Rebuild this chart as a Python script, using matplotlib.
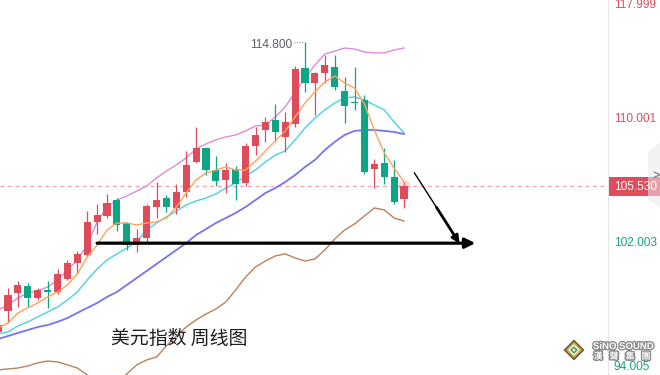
#!/usr/bin/env python3
"""
plot.py

Weekly US dollar index candlestick chart (美元指数 周线图) with MA5 / MA10 and
Bollinger bands, plus the two hand-drawn support arrows. Saves out.png.
"""

import matplotlib
matplotlib.use("Agg")

import matplotlib.pyplot as plt
import matplotlib.patches as mpatches
import matplotlib.patheffects as pe

# ---------------------------------------------------------------- data
# weekly candles
opens = [96.13, 97.49, 98.64, 99.09, 98.32, 98.84, 98.71, 99.55, 100.58, 101.09,
         103.22, 103.60, 104.63, 103.15, 101.73, 102.19, 104.18, 104.76, 104.12, 105.15,
         107.08, 107.98, 106.56, 105.92, 106.63, 105.73, 108.11, 109.14, 109.78, 108.69,
         109.53, 113.13, 112.17, 112.81, 113.20, 111.65, 110.94, 111.07, 106.63, 107.01,
         106.11, 104.70]
highs = [96.78, 98.97, 99.42, 99.29, 98.97, 99.42, 100.19, 100.77, 101.35, 103.92,
         104.37, 105.02, 104.76, 103.22, 102.77, 104.37, 105.79, 104.95, 105.66, 107.79,
         109.33, 108.04, 107.47, 107.01, 106.82, 108.30, 109.33, 109.98, 110.81, 110.30,
         113.26, 114.80, 112.87, 113.97, 113.97, 112.55, 113.20, 111.39, 107.27, 107.98,
         107.21, 105.79]
lows = [96.00, 96.71, 97.74, 97.74, 98.19, 97.68, 98.58, 99.48, 99.87, 101.03,
        102.44, 103.47, 102.64, 101.41, 101.28, 101.86, 103.47, 103.86, 103.73, 104.82,
        107.01, 106.24, 105.53, 105.08, 104.63, 105.53, 107.53, 108.37, 108.37, 107.72,
        109.33, 111.59, 110.11, 112.17, 111.71, 109.59, 110.43, 106.31, 105.40, 105.66,
        104.37, 104.12]
closes = [96.58, 98.52, 99.16, 98.32, 98.84, 98.71, 99.87, 100.58, 101.16, 103.22,
          103.67, 104.44, 103.02, 101.73, 102.19, 104.25, 104.63, 104.18, 105.15, 106.89,
          107.98, 106.56, 105.86, 106.56, 105.66, 108.11, 108.82, 109.65, 109.01, 109.65,
          113.07, 112.17, 112.81, 113.32, 111.91, 110.68, 110.88, 106.43, 106.95, 106.11,
          104.50, 105.53]

# indicator lines
ma5 = [96.39, 96.71, 97.36, 97.68, 98.00, 98.39, 98.71, 99.16, 99.87, 100.96,
       101.73, 102.70, 103.15, 103.15, 103.02, 103.15, 103.22, 103.47, 104.18, 105.08,
       105.92, 106.37, 106.56, 106.76, 106.56, 106.56, 107.14, 107.79, 108.43, 109.08,
       109.98, 110.88, 111.59, 112.23, 112.62, 112.17, 111.84, 110.81, 109.14, 107.66,
       106.69, 105.79]
ma10 = [96.00, 96.13, 96.52, 96.78, 97.10, 97.42, 97.74, 98.19, 98.71, 99.48,
        100.19, 100.77, 101.16, 101.54, 101.93, 102.70, 103.15, 103.54, 103.92, 104.31,
        104.57, 104.76, 105.02, 105.40, 105.73, 106.18, 106.56, 107.08, 107.53, 107.79,
        108.50, 109.27, 109.91, 110.43, 110.88, 111.20, 111.27, 111.07, 110.75, 110.43,
        109.65, 108.95]
boll_mid = [95.68, 95.87, 96.07, 96.26, 96.45, 96.58, 96.78, 97.03, 97.36, 97.68,
            98.00, 98.39, 98.71, 99.16, 99.61, 100.06, 100.51, 100.96, 101.41, 101.86,
            102.38, 102.76, 103.15, 103.47, 103.80, 104.18, 104.63, 105.08, 105.40, 105.79,
            106.24, 106.76, 107.21, 107.85, 108.37, 108.82, 109.08, 109.14, 109.14, 109.08,
            109.01, 108.88]
boll_up = [97.55, 97.87, 98.32, 98.64, 98.77, 99.03, 99.48, 100.12, 100.77, 101.73,
           103.22, 104.18, 104.63, 104.89, 105.21, 105.53, 106.05, 106.50, 106.89, 107.34,
           107.92, 108.24, 108.50, 108.69, 108.82, 109.08, 109.40, 109.46, 109.98, 110.62,
           111.59, 112.49, 113.32, 114.03, 114.22, 114.42, 114.35, 114.16, 114.10, 114.10,
           114.29, 114.42]
boll_low = [93.69, 93.75, 93.81, 93.94, 94.14, 94.26, 94.20, 94.01, 93.81, 93.36,
            92.78, 92.59, 92.78, 93.43, 94.01, 94.33, 94.52, 95.23, 95.87, 96.45,
            96.91, 97.29, 97.61, 98.06, 98.84, 99.67, 100.32, 100.70, 101.03, 101.16,
            100.90, 100.70, 100.83, 101.41, 102.12, 102.70, 103.09, 103.60, 104.12, 103.99,
            103.47, 103.28]

last_price = 105.53
high_label = "114.800"
support_level = 101.85
title = "美元指数 周线图"

axis_labels = ["117.999", "110.001", "102.003", "94.005"]
axis_label_px = [5, 119, 243, 367]        # vertical pixel position of each label
axis_label_colors = ["#e04c5c", "#e04c5c", "#14a386", "#14a386"]

UP = "#de4b5b"
DOWN = "#0ea587"

W, H = 660, 375
PLOT_W = 607


def fx(px):
    return px / W


def fy(py):
    return 1 - py / H


def draw_candles(ax):
    for i, (o, h, l, c) in enumerate(zip(opens, highs, lows, closes)):
        col = UP if c >= o else DOWN
        ax.vlines(i, l, h, color=col, lw=0.9, zorder=3)
        body = max(abs(c - o), 0.06)
        ax.bar(i, body, bottom=min(o, c), width=0.72, color=col, lw=0, zorder=3)
    # soft glow on the live candle
    ax.scatter(len(closes) - 1, closes[-1], s=90, color=UP, alpha=0.18, lw=0, zorder=2)


def draw_lines(ax):
    x = range(len(closes))
    ax.plot(x, boll_up, color="#e08ad8", lw=1.0, zorder=2)
    ax.plot(x, boll_low, color="#b9825a", lw=1.0, zorder=2)
    ax.plot(x, boll_mid, color="#7474ee", lw=1.3, zorder=2)
    ax.plot(x, ma10, color="#4fcfe6", lw=1.0, zorder=2)
    ax.plot(x, ma5, color="#ffa35a", lw=1.0, zorder=4)


def draw_annotations(ax):
    n = len(closes)
    # last price dashed line
    ax.axhline(last_price, color="#f4a1a9", lw=0.9, ls=(0, (3, 3)), zorder=1)

    # high label
    i_high = highs.index(max(highs))
    ax.text(i_high - 1.25, max(highs) - 0.22, high_label, ha="right", va="center",
            fontsize=8.6, color="#5c5f6a", family=["Liberation Sans", "DejaVu Sans"])
    ax.plot([i_high - 1.15, i_high], [max(highs)] * 2, color="#7a7d88", lw=0.8,
            ls=(0, (0.8, 1.6)), zorder=3)

    # support line with arrow
    ax.annotate("", xy=(n + 6.2, support_level), xytext=(10, support_level),
                arrowprops=dict(arrowstyle="-|>", color="black", lw=2.3,
                                mutation_scale=15, shrinkA=0, shrinkB=0), zorder=6)
    # diagonal arrow, thin at the start and heavier near the head
    x0, y0 = n + 0.05, 106.37
    x1, y1 = n + 4.5, 101.95
    ax.plot([x0, x1], [y0, y1], color="black", lw=1.0, zorder=6)
    xm, ym = x0 + (x1 - x0) * 0.5, y0 + (y1 - y0) * 0.5
    ax.annotate("", xy=(x1 + 0.1, y1 - 0.12), xytext=(xm, ym),
                arrowprops=dict(arrowstyle="-|>", color="black", lw=2.0,
                                mutation_scale=11, shrinkA=0, shrinkB=0), zorder=6)

    ax.text(11.4, 95.75, title, ha="left", va="center", fontsize=13.6, color="#1d1d1d",
            family=["Noto Sans CJK SC", "DejaVu Sans"])


def draw_price_axis(fig):
    fig.add_artist(plt.Line2D([fx(PLOT_W + 0.5)] * 2, [0, 1], color="#e6e6e9", lw=0.8))
    num_font = ["Liberation Sans", "DejaVu Sans"]
    for lab, py, col in zip(axis_labels, axis_label_px, axis_label_colors):
        fig.text(fx(614), fy(py), lab, ha="left", va="center", fontsize=8.6,
                 color=col, family=num_font)

    # last price box
    fig.add_artist(mpatches.Rectangle((fx(608), fy(196)), fx(52), 19 / H,
                                      color="#e04c5c", lw=0))
    fig.text(fx(614), fy(186.5), f"{last_price:.3f}", ha="left", va="center",
             fontsize=8.6, color="white", family=num_font)
    # collapse tab on the right edge
    tab = mpatches.Polygon([(fx(648), fy(152)), (fx(660), fy(142)),
                            (fx(660), fy(208)), (fx(648), fy(200))],
                           closed=True, color="#e9e9ee", alpha=0.55, lw=0)
    fig.add_artist(tab)
    fig.text(fx(656), fy(176), ">", ha="center", va="center", fontsize=9,
             color="#5a5e6a", family=num_font)


def draw_logo(fig):
    tr = fig.dpi_scale_trans
    cx, cy = 5.74, (H - 350) / 100
    for r, col in [(0.105, "#55544a"), (0.085, "#c9a531"), (0.06, "#f4f4ee"),
                   (0.038, "#3f9b4c"), (0.018, "#f4f4ee")]:
        fig.add_artist(mpatches.RegularPolygon((cx, cy), 4, radius=r, color=col,
                                               transform=tr, lw=0))
    stroke = [pe.withStroke(linewidth=2.0, foreground="#8a8a8a")]
    fig.text(fx(593), fy(346), "SiNO SOUND", ha="left", va="center", fontsize=6.9,
             fontweight="bold", color="white", family=["Liberation Sans", "DejaVu Sans"],
             path_effects=stroke)
    for k, ch in enumerate("漢聲集團"):
        fig.text(fx(598 + 16 * k), fy(356.5), ch, ha="center", va="center",
                 fontsize=6.4, fontweight="bold", color="white",
                 family=["Noto Sans CJK TC", "DejaVu Sans"], path_effects=stroke)


def main():
    fig = plt.figure(figsize=(W / 100, H / 100), dpi=100)
    fig.patch.set_facecolor("white")
    ax = fig.add_axes([0, 0, PLOT_W / W, 1])
    ax.set_axis_off()
    ax.set_xlim(0.19, 61.5)
    ax.set_ylim(93.36, 117.51)

    draw_lines(ax)
    draw_candles(ax)
    draw_annotations(ax)
    draw_price_axis(fig)
    draw_logo(fig)

    fig.savefig("out.png", dpi=100)


if __name__ == "__main__":
    main()
